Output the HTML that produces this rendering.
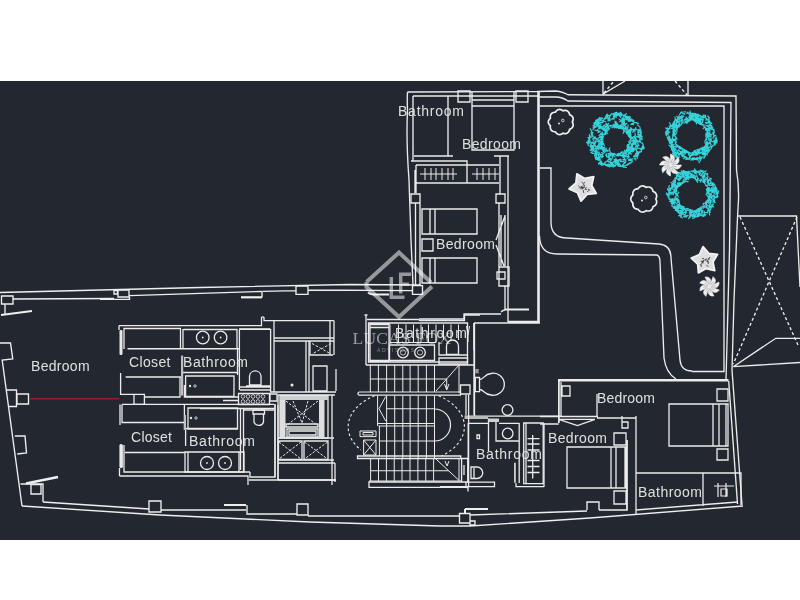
<!DOCTYPE html>
<html><head><meta charset="utf-8">
<style>
html,body{margin:0;padding:0;background:#fff;width:800px;height:600px;overflow:hidden}
svg{position:absolute;left:0;top:0;display:block;will-change:transform}
text{font-family:"Liberation Sans",sans-serif}
</style></head>
<body>
<svg width="800" height="600" viewBox="0 0 800 600">
<rect x="0" y="0" width="800" height="600" fill="#ffffff"/>
<rect x="0" y="81" width="800" height="459" fill="#23272f"/>
<g fill="none" stroke="#efefef" stroke-width="1.35">
<!-- ===== OUTER WALLS LEFT WING ===== -->
<path d="M0 292.5 L200 287.5 L350 284.5 L421 285"/>
<path d="M1.5 296 h11.5 v8 h-11.5 z M13 299 L114 298.5 M5 304 v10"/>
<path d="M1 315 L32 311" stroke-width="2.2"/>
<path d="M118 290 h11 v7 h-11 z M114 290.5 h3.5 v3.5 h-3.5z M100 299.4 H129.5 V297 M129.5 295.6 L262 291.4 V297.5 M263 291.4 L296 290.6 M296 286 h12 v8.4 h-12 z M308 290 L413 290.6"/>
<path d="M241 297.3 H262" stroke-width="2.2"/>
<path d="M368 292.5 Q370 295 375 294.5 L389 294.5" stroke-width="2"/>
<path d="M412.5 285.6 h10 v8.8 h-10 z"/>
<!-- left side -->
<path d="M0 343 H10.5 L12.75 359 L2.2 360 L22 506"/>
<path d="M6.5 390 H16.5 V406.5 H8.5 M17 394 h11.5 v10 h-11.5 z"/>
<path d="M14.8 436 H25 L26.5 453 L17.2 454"/>
<path d="M26 483.5 L58 477" stroke-width="2.4"/>
<path d="M20.5 484 H43 V502 M31 484.5 h10 v9.5 h-10 z"/>
<path d="M43 502 L149 509 M149 501 h12 v11 h-12 z M161 510 H246 M247 505 V514 H297 M297 504 h11 v11 h-11 z M308 516 H460"/>
<path d="M224 505 H246" stroke-width="2"/>
<path d="M22 506 L160 515 L310 522 L440 526 L470 526 L590 518 L743 506"/>
<path d="M459.5 513.5 h10.5 v9.5 h-10.5 z M470 521 h5 v4 h-5z M470 515 L587 511 M587 510 V502 h12 v8 M599 510 H627 V440"/>
<path d="M465 509 H488 M465 509 v5" stroke-width="2"/>
</g>

<g fill="none" stroke="#ececec" stroke-width="1.3">
<!-- upper closet / bath -->
<path d="M119 325.6 H261.5 V317.5 Q262.7 316.3 264 317.5 V320.6 H334 M119 325.6 V330"/>
<path d="M124 349 V328.5 H180.5 V348.5 M127.5 348.75 H239.4 M183 329 V348.75 M183.5 329.5 H237 V348 M239.4 329.4 H270.6 V392 M239.4 329.4 V390 M237.5 348 V375"/>
<circle cx="202.75" cy="337.5" r="6.3"/><circle cx="220.6" cy="337.5" r="6.3"/>
<path d="M183 372.5 H237.5 M125.6 377 H181 M185.6 376 H234 V396.5 H185.6 Z"/>
<path d="M120.6 373 V394.4 H134 M134 394.4 h10.4 v10 h-10.4 z M144.4 397 H180 V385 M180 377 V397 M184.4 385 V397 H238.5"/>
<path d="M122 404.4 H274 M120 404.4 V425 M122 404.4 V422.5 H184.4 M184.4 404 V430 M188 408 H237.5 V429 H188 Z M184 428.5 H237.5 M200 408.5 H275"/>
<path d="M240.5 408.5 V470 M243.5 408.5 V472 M243.5 410 H274"/>
<!-- lower closet -->
<path d="M124 445 V472 H250 M125 452.5 H185 M119.5 476 H248 V485 M119.5 468 V476"/>
<path d="M185 452 H244 V472 H185 Z M188 452 V472 M239 452 V472"/>
<circle cx="207" cy="463" r="6.5"/><circle cx="225" cy="463" r="6.5"/>
<path d="M250 472 V477 H275 V404.5 M185.6 429 V446 M278 405 V480 M249 480 H336"/>
<!-- toilets -->
<path d="M249.5 385 V376 A5.8 5.8 0 0 1 261 376 V385 Z M246 386 H270.6 M240 387 H270 M240 390 H270"/>
<path d="M253 410 H264.5 V414 H253 Z M254 414 V422 A5 5 0 0 0 263.5 422 V414"/>
<!-- vanity -->
<path d="M238.5 393.5 H269.5 V404.5 H238.5 Z M223 400.5 H238.5 V404"/>
<path d="M270 394 h7 v7 h-7 z"/>
</g>
<!-- filled bars -->
<g fill="#e8e8e8" stroke="none">
<rect x="119.5" y="330" width="3" height="25" rx="1.2"/>
<rect x="181" y="355.6" width="2.2" height="40" fill="#bfc1c4"/>
<rect x="119.4" y="444" width="3.5" height="24" rx="1.5"/>
<rect x="184" y="415" width="2" height="15" fill="#bfc1c4"/>
<circle cx="202.75" cy="337.5" r="0.9"/><circle cx="220.6" cy="337.5" r="0.9"/>
<circle cx="207" cy="463" r="0.9"/><circle cx="225" cy="463" r="0.9"/>
<circle cx="190" cy="386" r="1.2"/><circle cx="195" cy="386" r="1.2" fill="none" stroke="#e8e8e8" stroke-width="0.8"/>
<circle cx="191" cy="418" r="1.2"/><circle cx="196" cy="418" r="1.2" fill="none" stroke="#e8e8e8" stroke-width="0.8"/>
</g>
<g fill="none" stroke="#d8d8d8" stroke-width="0.9">
<circle cx="243" cy="396.5" r="1.8"/><circle cx="248" cy="396.5" r="1.8"/><circle cx="253" cy="396.5" r="1.8"/><circle cx="258" cy="396.5" r="1.8"/><circle cx="263" cy="396.5" r="1.8"/>
<circle cx="243" cy="401.5" r="1.8"/><circle cx="248" cy="401.5" r="1.8"/><circle cx="253" cy="401.5" r="1.8"/><circle cx="258" cy="401.5" r="1.8"/><circle cx="263" cy="401.5" r="1.8"/>
</g>
<!-- red line -->
<path d="M29 398.8 H119" stroke="#8e2323" stroke-width="1.4"/>

<g fill="none" stroke="#ececec" stroke-width="1.35">
<!-- tower -->
<path d="M407.5 92 Q407 100 407.5 110 Q406 140 409 180 L411 240 L413 285"/>
<path d="M407.5 92 L537 91.5 L555 91 Q561 91 568 94.75 L736 96 L736.5 170 Q739 185 738.5 200 L737.5 217.5 L734 300 L732 370 L742 505"/>
<path d="M413 96 H539.5 M413 96 V161 M448 96 V156 M414 156 H453"/>
<path d="M458 91 h12 v11 h-12 z M516 91 h12 v11 h-12 z"/>
<path d="M472 92 V150 H514 V92 M472 100 H514 M472 106 H514"/>
<path d="M411 161 H467 V183 M416 165 H499 M416 165 V193 M416 183 H499 M415 170 V193"/>
<path d="M420 174 H457 M472 174 H499 M425 168 V180 M431 168 V180 M436 168 V180 M442 168 V180 M448 168 V180 M453 168 V180 M477 168 V180 M483 168 V180 M489 168 V180 M495 168 V180" stroke-width="1"/>
<path d="M494 156 H509 M500 156 V194 M508 156 V322 M499 203 V267"/>
<path d="M411 194 h9 v9 h-9 z M496 194 h9 v9 h-9 z M420 203 V285 M415.5 203 V285"/>
<path d="M501 215 V266 M505 215 V266 M505 216 L496 240 M496 245 L504 266"/>
<path d="M422 209 H477 V234 H422 Z M430 209 V234 M435 209 V234 M422 239 h11 v12 h-11 z"/>
<path d="M422 258 H477 V283 H422 Z M430 258 V283 M435 258 V283"/>
<path d="M499 267 h10 v19 h-10 z M497 272 h8 v7 h-8 z M505 286 V310"/>
<path d="M505 309.5 H529" stroke-width="2"/>
<path d="M501 314 H464 V319 H419 M508 321.5 H539 M474 323 H540 M474 323 V350 M501 312 Q503 310 505 310"/>
<!-- garden walls -->
<path d="M538.5 91.5 V323" stroke-width="2.6"/>
<path d="M539.5 97 L556 97 Q562 97 568 101 L731 102.5 L729.5 250 L726 380 M539.5 106 H724 V371.5 H692"/>
<path d="M728.7 381 L737.5 504"/>
<!-- garden path -->
<path d="M540 168 H551 V222 Q551 238 567 238 L659 244 Q671 245 671 258 L680 360 Q681 371 692 371"/>
<path d="M539.5 236 Q540 254 557 254 L657 255 Q660 256 660 262 L664 358 Q666 373 676 379"/>
<!-- right triangle structure -->
<path d="M737.5 216 H796.5 L800 287 M733.3 366.7 L775.8 338.3 H800 M733.3 366.7 L800 362.5"/>
<path d="M740 217 L798 345 M797 217 L733.3 364" stroke-dasharray="3 2.5"/>
<!-- top triangles -->
<path d="M603 81 V94 L625 81 M688 81 V95.5"/>
<path d="M604 93 L614 81 M675 81 L687 95" stroke-dasharray="3 2.5"/>
</g>

<g fill="none" stroke="#ececec" stroke-width="1.3">
<!-- shaft block between left wing and stairs -->
<path d="M274 320.6 V392 M274 338 H334 M274 341 H334 M330 320.6 V355 M334 320.6 V355 M306 341 V392 M309 341 V392 M275 341 H306"/>
<path d="M310 341 V355 H333"/><path d="M312 343.5 L331 354 M331 343.5 L312 354" stroke-width="1" stroke-dasharray="2.5 1.8"/>
<path d="M313 366 h14 v25 h-14 z M336 369 V391 M270 392 H336 M270 329 H239"/>
<circle cx="292" cy="385" r="0.9" fill="#ddd"/>
<!-- lift -->
<path d="M278 395 H335 M278 438 H334 M278 395 V480 M275 404 V477 M332 395 V485 M335 463 V482"/>
<path d="M280 395.6 H328 V438 H280 Z"/>
<path d="M286 401 L318 426 M318 401 L286 426 M293 401 L302 423 L308 401" stroke-width="1" stroke-dasharray="2.5 1.5"/>
<path d="M286 424 h32 v3 h-32 z M287 429 h31 v8 h-31 z M289 431 h27 v4 h-27 z"/>
<path d="M278.5 441 h23.5 v18.5 h-23.5 z M304 441 h24 v18.5 h-24 z" />
<path d="M279 442 L301 459 M301 442 L279 459 M304.5 442 L327.5 459 M327.5 442 L304.5 459" stroke-width="1" stroke-dasharray="2.5 1.5"/>
<path d="M278 460 H334 M278 463 H335 M278 480 H336"/>
<!-- center stair core -->
<path d="M366 315 V365 M364.5 315 h3 M367 319.5 H418 L420 320.5 H464.5 V315 H480"/>
<path d="M368.5 323 H467.5 V362 H368.5 Z M370 324.5 H389 V360.5 H370 Z M370 327.5 H389"/>
<path d="M390 324.5 V342.5 M398.5 324.5 V342.5 M406 324.5 V342.5 M413.5 324.5 V342.5 M421 324.5 V342.5 M428.5 324.5 V342.5 M436 324.5 V342.5 M443.5 324.5 V340 M451 324.5 V340 M458.5 324.5 V340 M390 342.5 H436" stroke-width="1"/>
<path d="M389.5 345 H434.5 V360.5 H389.5 Z"/>
<circle cx="403" cy="352.5" r="5.3"/><circle cx="420" cy="352.5" r="5.3"/>
<circle cx="403" cy="352.5" r="2.6" stroke-width="0.8"/><circle cx="420" cy="352.5" r="2.6" stroke-width="0.8"/>
<path d="M446.5 354.5 V346 A6 6 0 0 1 458.5 346 V354.5 Z M439 342 V355 H467 M439 358 h28.5 v6 h-28.5 z"/>
<path d="M466.5 326 L468 335 L469.5 326 M468 335 V342" stroke-width="1"/>
<path d="M366 365 H474 M474 323 V415"/>
<!-- upper flight -->
<path d="M370.3 365 V392 M378.4 365 V392 M386.6 365 V392 M394.7 365 V392 M402.8 365 V392 M410.1 365 V392 M418.2 365 V392 M426.4 365 V392 M434.5 365 V392 M370.3 379 H446.7 M436 391 L459 365 M459 365 V393 M446.7 379 V390 M444.5 384 L446.7 390 L449 384" stroke-width="1"/>
<path d="M359.5 392 H460.5 V395.2 H359.5 A1.6 1.6 0 0 1 359.5 392 Z" stroke-width="1.2"/>
<path d="M460.5 385 h9.5 v9 h-9.5 z M466 395 V415 M468.6 395 V415"/>
<!-- lower flight -->
<path d="M377.6 395.5 V426 M386.6 395.5 V458 M394.7 395.5 V458 M402.8 395.5 V458 M410.1 395.5 V458 M418.2 395.5 V458 M426.4 395.5 V458 M434.5 395.5 V458 M379.4 426 V456 M386.6 408.75 H434.5 M377.6 423.5 H434.5 M378.5 426 H434.5 M379.4 441 H434.5 M385.7 396.6 L379 408.75 L385.7 421" stroke-width="1"/>
<path d="M434.5 409 A16 16 0 0 1 434.5 441" stroke-width="1.2"/>
<path d="M374.7 395.7 A58 37 0 0 0 361 450 M438.6 395.75 A58 37 0 0 1 441.5 456" stroke-dasharray="2.6 2.4" stroke-width="1.1"/>
<path d="M360 431 h16 v5.6 h-16 z M363 432.5 h10 v2.5 h-10 z M363.6 440 h12.4 v15 h-12.4 z M363.6 440 L376 455 M376 440 L363.6 455" stroke-width="1"/>
<path d="M357.5 456 H460.75 V458.5 H357.5 Z"/>
<path d="M370.6 458.5 V481 M378.5 458.5 V481 M386.4 458.5 V481 M394.25 458.5 V481 M402 458.5 V481 M410 458.5 V481 M417.9 458.5 V481 M425.75 458.5 V481 M433.6 458.5 V481 M370.6 470.75 H448.5 M369 481 H461 M435.4 458.5 L459 480.4 M459 458.5 V481 M445 461 L447 466 L449 461" stroke-width="1"/>
<path d="M461.6 458.5 h6.2 v23.5 h-6.2 z M464 465 v10 M369 482 H466 V487.4 H369 Z M468.6 415 V486 M466 487.5 h2 v4"/>
</g>
<g fill="#dedede" stroke="none">
<rect x="280" y="397" width="5.5" height="40"/>
<rect x="319" y="397" width="5.5" height="40"/>
<rect x="280" y="396" width="48" height="4" fill="#cfcfcf"/>
</g>

<g fill="none" stroke="#ececec" stroke-width="1.3">
<!-- center-right bathroom with big toilet -->
<path d="M474.5 323 V416 M464.5 416.2 H560 M464.5 418 H488"/>
<path d="M475.3 377.5 h4.2 v14.2 h-4.2 z M479.5 379.5 C484 379.5 484 374 491 373.5 A11 11 0 1 1 491 395 C484 394.5 484 389.5 479.5 389.5" stroke-width="1.3"/>
<circle cx="507.5" cy="410" r="5.4"/>
<!-- lower bathroom -->
<path d="M468.2 423 V483 M468.2 423.3 H488 M499 423.3 H519.2 M488.5 418.5 V451.5 M496 421.5 V441 H518.5 M519.2 423 V483"/>
<circle cx="507.7" cy="433.5" r="5.3"/>
<path d="M477 435 h2.5 v3.7 h-2.5 z"/>
<path d="M471 467 H477 A5.75 5.75 0 0 1 477 478.5 H471 Z M474 468 V478"/>
<path d="M469 482.2 H494.5 V486.7 H440 M516 483 V486.7 H544"/>
<path d="M523.7 423 H543.2 V483.7 H523.7 Z M526 423 V483.7 M532.7 435 V478.5 M527.5 438.7 H539.5 M527.5 444 H539.5 M527.5 450 H539.5 M527.5 460.5 H539.5 M527.5 466.5 H539.5 M527.5 472.5 H539.5"/>
<path d="M544 423 V487 M558.7 379 V423"/>
<!-- right wing -->
<path d="M558 380.3 H728.5" stroke-width="2.4"/>
<path d="M559 380 V423 M561 382 V416 M562 386 h8 v10 h-8 z M597 394 V417 M540 416.5 H598 M597 418 H636"/>
<path d="M558.7 419.3 H595 M558.7 419.3 L577.4 425.6 L595 419.3 M540 424 H558.7"/>
<path d="M614 433 h12 v12 h-12 z M622 416 V428 M622 422 h6 v6 h-6 z M636 416 V515"/>
<path d="M567 447 H626 V488 H567 Z M611 447 V488 M616 447 V488 M625 447 V488 M614 491 h12 v13 h-12 z M627 440 V510"/>
<path d="M669 404 H728 V446 H669 Z M713 404 V446 M719 404 V446 M726 404 V446 M717 389 h11 v12 h-11 z M717 449 h11 v11 h-11 z"/>
<path d="M636 473 H741 V505 M703 473 V506 M636 510 L737.5 502"/>
<path d="M714 486 H734 M718 483 V497 M726 483 V497 M721 489 h6 v7 h-6z" stroke-width="1.2"/>
</g>
<rect x="475.3" y="369" width="3.4" height="4.3" fill="#9a9a9a"/>
<rect x="488.5" y="418.5" width="10.5" height="3.5" fill="#d0d0d0"/>
<rect x="514" y="462.7" width="1.8" height="20" fill="#d0d0d0"/>

<path d="M640.7 140.9 L640.2 142.4 L640.4 142.0 M641.8 142.6 L643.2 144.4 L641.9 143.1 M643.0 145.3 L643.8 147.0 L644.2 148.4 M642.4 147.6 L641.0 148.4 L642.1 147.8 M641.4 149.0 L641.4 151.8 L640.4 152.1 M640.0 151.3 L639.2 152.7 L637.9 151.8 M638.6 152.9 L638.1 155.4 L638.0 154.8 M637.7 154.9 L637.2 157.4 L637.3 158.5 M635.5 155.7 L633.8 156.0 L633.6 156.7 M635.0 157.0 L635.1 159.6 L635.9 159.8 M632.8 158.7 L630.5 159.8 L630.8 159.7 M632.5 161.4 L630.5 163.1 L629.2 163.7 M631.2 162.9 L629.3 163.0 L628.9 163.6 M629.6 162.8 L628.8 164.3 L627.5 165.1 M627.8 164.0 L625.4 165.8 L624.1 165.6 M626.4 167.5 L623.4 167.1 L622.8 166.8 M624.2 167.3 L622.6 166.6 L621.7 165.8 M621.9 166.2 L619.9 166.4 L618.4 166.1 M619.6 166.2 L617.4 164.7 L617.4 165.1 M617.1 164.7 L614.8 163.2 L615.9 164.0 M615.5 165.5 L613.4 167.0 L612.1 165.7 M613.9 164.7 L612.3 165.0 L610.8 164.0 M612.0 165.1 L609.5 166.8 L609.9 165.7 M609.8 164.9 L608.1 164.9 L609.2 166.3 M607.4 165.1 L605.8 165.6 L605.4 164.9 M605.1 164.2 L602.1 165.2 L602.2 164.1 M603.4 163.8 L600.7 162.2 L601.7 162.8 M601.5 163.5 L598.7 163.4 L598.8 164.3 M600.4 161.3 L599.1 158.4 L600.1 159.3 M598.0 160.0 L595.8 159.2 L595.3 157.8 M598.2 158.2 L595.8 157.2 L597.1 157.0 M595.1 156.8 L595.3 154.7 L594.4 153.8 M596.1 154.7 L594.9 151.9 L595.9 151.9 M593.4 153.4 L591.0 152.4 L592.2 153.3 M592.9 151.3 L590.6 149.6 L590.1 150.5 M591.8 149.3 L590.3 146.5 L590.9 145.5 M591.8 148.2 L592.7 145.5 L591.7 146.5 M588.6 145.8 L587.6 143.5 L586.5 142.1 M588.2 143.6 L588.0 140.5 L587.8 141.6 M590.0 141.5 L589.1 139.7 L588.4 140.0 M589.9 140.2 L588.2 137.6 L587.8 137.5 M589.5 137.7 L589.4 134.6 L589.4 134.7 M592.2 136.1 L592.4 134.3 L590.9 135.2 M591.6 134.4 L593.0 132.4 L592.5 132.5 M591.6 131.9 L590.9 129.5 L590.1 128.8 M592.9 129.9 L594.3 127.5 L595.5 127.3 M593.4 128.2 L594.8 125.8 L594.6 125.9 M593.1 125.7 L595.4 123.8 L596.7 123.1 M593.8 123.4 L595.4 122.8 L594.3 122.6 M595.6 123.0 L595.7 120.3 L596.5 121.5 M596.3 120.5 L597.8 119.7 L599.0 121.1 M598.2 119.2 L599.7 117.5 L601.2 118.5 M601.0 119.5 L602.7 118.3 L601.8 117.8 M604.0 119.4 L606.1 118.5 L604.6 118.0 M605.2 117.7 L606.5 114.8 L607.4 116.2 M606.7 117.7 L607.9 115.2 L607.2 114.1 M608.4 115.3 L610.3 115.8 L609.2 117.0 M610.6 115.0 L611.6 113.8 L612.2 113.6 M611.9 113.9 L614.7 114.1 L613.5 115.1 M613.9 113.3 L616.0 113.0 L616.2 114.3 M616.3 114.2 L618.2 114.3 L617.1 113.3 M618.2 113.4 L620.2 112.9 L620.9 112.3 M620.7 114.9 L622.2 114.8 L621.4 113.4 M623.0 115.3 L625.2 114.8 L626.5 113.6 M624.8 116.7 L627.5 117.7 L627.2 117.7 M626.9 116.3 L629.8 116.8 L630.4 117.3 M627.7 118.6 L629.4 118.2 L628.1 119.0 M629.0 119.9 L631.9 119.6 L633.0 120.1 M630.8 120.7 L633.0 121.4 L631.9 121.2 M633.7 120.3 L633.9 122.7 L633.1 124.1 M634.5 122.5 L636.7 122.5 L636.6 122.5 M636.6 123.2 L638.5 123.4 L637.3 123.1 M637.4 125.0 L639.0 126.1 L639.2 126.2 M639.9 127.0 L640.4 130.0 L640.0 129.4 M639.1 130.1 L639.2 132.6 L637.9 133.7 M640.5 131.6 L640.4 134.4 L639.3 134.5 M641.2 133.0 L640.6 135.8 L640.9 137.0 M641.2 135.3 L642.1 136.6 L641.0 136.1 M641.7 136.6 L641.9 139.1 L642.2 139.7 M640.0 139.2 L638.9 141.7 L638.9 141.8 M630.9 141.2 L630.1 143.0 L628.8 142.3 M630.1 143.1 L628.4 145.7 L628.4 145.4 M628.6 144.2 L626.9 146.1 L627.3 144.9 M629.2 145.9 L627.8 147.3 L628.0 145.9 M628.7 147.6 L626.8 149.5 L627.4 148.8 M627.6 149.7 L626.7 151.1 L627.8 150.2 M624.9 150.2 L624.8 152.5 L625.7 153.9 M624.9 152.0 L623.5 154.8 L622.6 155.0 M623.2 152.1 L621.5 151.8 L622.4 151.8 M620.8 152.7 L618.7 154.8 L618.6 153.4 M620.2 153.5 L618.4 154.3 L617.3 153.8 M618.2 153.5 L616.6 155.7 L617.6 154.6 M615.9 154.8 L614.3 153.6 L613.9 153.3 M614.1 154.5 L611.8 154.6 L611.2 153.3 M613.4 153.5 L610.4 153.9 L609.6 153.2 M611.0 154.0 L607.9 153.6 L609.1 154.5 M610.1 151.6 L609.2 149.3 L609.9 148.0 M608.0 151.7 L606.6 149.5 L606.0 148.2 M605.6 151.4 L604.1 150.0 L603.5 150.7 M604.1 150.1 L603.2 148.3 L603.4 148.0 M603.3 149.5 L600.6 148.1 L600.6 147.2 M604.5 145.8 L603.6 144.3 L602.7 143.1 M602.2 145.6 L600.8 144.2 L601.0 145.3 M602.5 143.2 L601.7 140.9 L601.3 140.4 M601.9 142.2 L603.0 140.8 L603.0 141.2 M601.3 139.5 L600.7 137.7 L600.4 137.5 M602.5 137.8 L603.6 136.7 L602.2 137.4 M602.1 135.9 L602.8 134.6 L602.5 135.9 M604.1 134.9 L605.9 134.2 L604.7 133.2 M604.6 133.7 L607.2 132.8 L607.7 133.6 M605.4 132.2 L605.2 129.4 L604.4 130.7 M606.2 130.3 L606.6 128.5 L607.0 129.1 M606.6 129.0 L608.6 127.5 L608.3 126.6 M608.2 127.0 L609.8 125.3 L611.1 125.7 M610.6 126.8 L612.0 125.4 L613.4 126.0 M611.6 125.7 L614.1 125.0 L613.9 124.2 M614.3 127.9 L615.6 127.1 L615.1 126.9 M615.8 126.2 L618.3 127.4 L618.3 126.5 M617.9 126.5 L619.4 127.7 L618.6 128.4 M618.6 128.1 L620.4 128.5 L619.6 128.2 M620.7 128.2 L622.8 127.7 L622.0 129.2 M622.9 126.2 L625.0 125.6 L626.2 126.8 M623.5 130.0 L624.0 132.0 L623.1 133.3 M626.2 129.5 L627.3 131.4 L626.9 130.9 M627.0 130.5 L628.8 131.4 L630.2 130.3 M628.2 132.9 L630.2 135.0 L631.2 134.8 M628.1 133.9 L630.1 136.2 L629.1 135.8 M630.8 135.8 L632.0 138.4 L632.8 137.0 M631.2 136.6 L630.4 138.4 L631.2 139.6 M630.9 139.0 L629.4 141.1 L628.7 141.7 M609.2 155.9 L611.8 155.9 L613.9 154.7 L615.4 154.4 M618.0 160.0 L620.8 159.2 L619.4 160.4 L617.4 161.4 M630.0 133.7 L630.8 131.3 L632.0 128.9 L630.4 127.6 M608.3 157.0 L608.6 155.4 L609.5 157.9 L609.5 159.5 M636.6 145.0 L635.2 147.6 L637.5 145.6 L637.3 147.2 M632.4 151.8 L631.8 149.7 L632.0 151.8 L630.2 150.1 M615.7 114.9 L614.8 113.5 L615.9 112.5 L614.1 113.2 M614.8 124.9 L614.9 126.8 L616.5 127.9 L614.8 127.0 M595.3 156.3 L594.6 155.5 L595.5 153.2 L597.1 153.1 M590.4 144.6 L591.9 142.2 L593.8 142.7 L595.1 143.9 M636.7 136.9 L638.6 136.1 L640.0 134.5 L639.8 137.1 M629.8 135.6 L627.8 134.2 L628.5 136.1 L629.6 137.5 M615.3 161.8 L614.3 160.3 L616.3 160.4 L615.5 158.8 M610.0 155.0 L610.7 152.8 L612.2 153.4 L610.4 154.8 M606.9 129.6 L607.5 131.0 L605.9 132.0 L604.5 134.6 M608.0 160.0 L606.6 161.6 L608.6 159.4 L607.4 160.7 M613.8 125.0 L616.7 125.1 L614.3 126.4 L611.9 127.8 M601.4 144.2 L603.7 144.4 L601.9 142.2 L603.7 143.5 M602.2 155.0 L603.4 156.5 L600.5 156.2 L602.3 157.6 M624.8 115.9 L625.4 117.5 L627.8 117.1 L626.2 117.3 M632.6 132.2 L634.6 130.8 L635.3 129.3 L635.8 127.5 M596.0 154.2 L596.9 152.6 L597.3 154.7 L595.2 154.4 M627.9 152.1 L627.5 149.3 L629.7 149.9 L629.8 148.4 M623.9 127.7 L622.0 126.4 L620.6 125.0 L618.6 126.1 M596.5 150.3 L594.5 151.0 L596.9 151.4 L595.0 151.5 M618.2 115.3 L616.4 115.8 L614.8 116.0 L616.3 117.6 M632.1 150.9 L630.5 150.8 L629.4 149.6 L629.2 147.0 M602.2 139.5 L600.1 139.5 L601.8 138.9 L603.0 136.4 M613.3 116.3 L614.3 119.0 L611.4 119.2 L612.9 118.3 M622.3 115.0 L624.1 115.9 L623.9 114.9 L624.9 115.4 M622.2 126.4 L619.3 126.3 L619.8 128.0 L617.9 127.9 M631.0 144.0 L632.6 146.5 L631.4 143.9 L632.7 146.3 M631.3 154.0 L629.9 152.4 L631.6 150.8 L629.1 149.4 M636.7 156.5 L635.3 155.0 L635.8 153.1 L638.2 153.0 M600.8 158.8 L599.1 159.5 L599.1 157.9 L599.9 156.2 M598.5 119.5 L597.6 119.7 L597.0 121.0 L598.7 121.4 M601.4 127.5 L598.6 127.2 L599.8 128.6 L598.9 127.3 M633.8 140.8 L635.4 142.1 L635.7 144.4 L634.2 143.4 M601.6 126.3 L603.5 128.5 L603.6 130.2 L605.6 131.6 M632.4 123.3 L630.9 124.4 L633.4 124.5 L631.5 123.8 M604.3 125.2 L606.7 124.2 L606.7 127.1 L608.9 127.7 M602.2 149.8 L604.7 150.7 L607.0 150.9 L608.3 150.7 M622.9 161.6 L620.5 161.5 L621.1 159.8 L620.4 161.6 M641.9 148.6 L642.4 146.1 L643.2 145.8 L642.9 143.6 M615.0 121.1 L615.2 122.8 L615.4 124.3 L614.1 126.6 M607.8 117.7 L607.4 115.9 L605.9 116.4 L607.0 115.9 M613.9 162.0 L615.7 161.6 L616.8 160.6 L616.7 162.5 M615.0 113.7 L615.0 112.8 L616.4 112.3 L616.6 115.1 M600.1 123.4 L598.6 120.8 L595.9 121.4 L596.3 120.1 M594.9 149.3 L593.1 148.5 L593.7 150.8 L596.2 152.2 M624.2 151.0 L626.5 152.8 L625.5 154.2 L627.1 154.5 M608.4 120.3 L607.5 117.9 L609.7 118.8 L607.9 120.9 M626.5 118.0 L629.1 119.1 L630.7 118.8 L632.2 120.0 M627.0 149.8 L628.5 147.6 L627.6 146.0 L627.8 145.1 M628.0 149.2 L628.1 147.4 L627.2 149.3 L629.0 149.6 M611.4 162.6 L610.1 164.1 L612.3 163.6 L613.7 161.6 M634.5 144.2 L632.1 145.2 L630.6 147.3 L628.8 146.9 M625.2 129.7 L625.9 128.1 L627.7 128.1 L628.0 125.2 M635.6 141.0 L632.9 141.2 L633.8 143.2 L632.2 145.5 M614.3 165.9 L614.0 166.6 L613.3 164.4 L615.2 166.0 M636.9 152.2 L636.1 149.6 L634.7 148.2 L632.9 149.4 M626.8 131.6 L627.9 130.6 L628.5 132.5 L630.3 131.2 M597.9 157.7 L598.1 159.8 L596.6 158.4 L596.6 155.9 M605.7 154.9 L607.3 157.2 L605.9 155.0 L607.0 156.9 M619.2 119.1 L620.7 120.7 L622.1 119.4 L622.8 121.3 M609.0 117.3 L610.0 118.8 L610.0 120.8 L608.3 120.5 M608.6 154.3 L611.2 153.9 L613.6 155.6 L615.2 156.9 M639.4 138.1 L639.2 136.0 L640.0 138.3 L641.4 139.4 M605.2 149.6 L603.1 151.2 L602.3 149.1 L600.8 147.5 M629.3 156.9 L627.1 158.4 L628.9 157.2 L626.6 156.0 M601.8 148.2 L601.3 145.4 L601.7 142.9 L603.2 140.9 M603.7 125.4 L602.8 127.6 L604.5 128.9 L605.1 126.4 M604.6 128.5 L602.7 129.5 L601.2 128.0 L599.9 125.4 M625.4 161.4 L625.7 159.4 L622.8 159.6 L625.0 160.1 M628.7 160.8 L630.8 159.9 L632.5 161.1 L630.0 160.4 M594.2 138.8 L595.3 136.8 L592.8 138.4 L593.5 140.8 M597.8 155.0 L600.0 157.1 L599.0 158.4 L598.7 160.4 M634.6 142.1 L632.4 143.3 L631.2 144.8 L631.7 147.4 M634.9 133.0 L635.4 135.7 L634.0 136.8 L635.8 138.7 M623.9 120.3 L621.6 120.8 L622.1 123.7 L620.6 125.7 M626.0 118.8 L624.1 119.1 L622.5 118.6 L623.5 116.9 M625.9 127.0 L624.5 128.4 L623.1 128.9 L625.7 129.0 M612.8 156.5 L612.1 158.6 L609.9 159.7 L608.8 158.0 M638.7 129.6 L640.9 130.7 L640.9 130.1 L641.2 132.7 M607.3 130.9 L609.1 129.2 L608.0 127.6 L609.4 128.6 M618.4 164.0 L617.4 165.4 L619.6 163.9 L621.0 166.3 M596.8 124.9 L595.4 122.4 L596.4 120.1 L597.2 122.5 M593.4 136.1 L590.8 137.1 L589.9 136.6 L590.0 138.3 M602.4 141.1 L600.7 141.4 L598.4 141.6 L595.7 140.9 M640.4 141.5 L638.1 142.0 L636.7 139.6 L635.2 141.1 M630.2 136.9 L628.6 135.1 L631.0 135.5 L629.8 132.8 M602.2 165.4 L600.6 164.3 L601.8 163.4 L601.4 161.0 M602.1 162.9 L600.7 164.4 L599.3 162.4 L600.3 163.8 M597.9 150.1 L598.8 148.4 L599.8 146.5 L597.9 146.5 M589.3 139.4 L589.6 137.4 L589.1 139.2 L588.4 141.4 M599.7 122.1 L602.2 122.7 L604.0 121.2 L605.8 121.8 M631.5 141.1 L633.6 140.0 L632.2 137.7 L634.2 136.4 M599.1 125.3 L598.3 123.0 L597.5 121.4 L596.9 119.9 M617.1 126.3 L617.8 127.7 L618.2 124.8 L617.1 123.1 M626.4 119.3 L624.6 118.6 L623.9 120.7 L623.1 122.6 M599.4 119.9 L601.6 120.7 L603.2 121.1 L604.1 118.9 M633.0 130.9 L635.1 131.1 L632.7 129.5 L634.9 129.3 M603.4 148.2 L602.3 146.8 L603.2 148.0 L604.8 148.8 M634.6 158.3 L635.2 158.2 L635.2 158.3 L634.8 156.4 M614.4 125.2 L616.9 126.0 L616.3 123.3 L616.1 121.7 M599.6 123.4 L596.8 124.1 L596.7 127.0 L596.4 125.5 M637.9 142.5 L638.5 141.1 L637.6 143.5 L639.0 145.9 M602.4 141.7 L600.8 143.4 L598.5 144.4 L600.2 146.5 M601.6 157.2 L600.1 155.6 L598.1 157.4 L600.6 156.5 M600.5 133.6 L603.2 134.7 L602.4 132.1 L601.3 134.2 M639.8 137.1 L638.2 135.9 L635.7 137.2 L633.8 138.9 M595.0 124.9 L595.7 123.1 L597.6 123.1 L595.5 124.2 M626.0 117.7 L628.7 118.5 L628.7 117.7 L627.0 116.8 M630.1 121.4 L629.0 118.8 L628.0 120.1 L625.5 119.2 M623.5 163.7 L625.1 162.9 L623.2 161.3 L621.4 161.7 M615.3 163.6 L615.9 161.5 L618.2 162.9 L618.4 161.1 M593.9 128.4 L595.6 126.9 L593.2 127.2 L593.9 128.9 M625.9 161.8 L624.4 163.6 L622.5 164.9 L623.5 166.2 M634.0 140.2 L636.0 141.7 L636.4 140.0 L634.7 138.8 M602.5 138.8 L602.9 139.2 L602.5 137.1 L600.7 136.3 M619.5 121.7 L622.0 120.8 L623.2 118.1 L623.2 119.7 M620.7 155.3 L622.1 156.1 L619.4 155.1 L616.6 155.8 M627.5 133.2 L625.8 132.0 L628.0 134.0 L628.5 136.1 M599.0 119.8 L598.9 119.1 L597.3 119.7 L600.3 119.1 M618.4 153.8 L618.3 155.9 L620.7 154.2 L621.5 152.9 M621.2 118.0 L619.4 115.6 L621.1 116.2 L621.1 113.3 M608.2 124.8 L606.0 123.4 L607.6 124.6 L607.5 126.3 M600.8 142.3 L600.9 144.0 L600.2 142.6 L599.9 140.9 M642.3 146.5 L642.8 149.4 L643.4 147.0 L643.6 148.3 M636.9 155.1 L638.2 153.0 L636.3 153.6 L637.3 151.6 M605.7 129.7 L606.0 131.3 L605.4 129.0 L607.1 131.3 M614.1 159.1 L615.1 160.7 L616.2 159.0 L617.3 161.0 M605.1 164.5 L607.4 166.1 L610.3 166.3 L609.4 164.7 M598.9 142.9 L598.8 144.7 L596.8 147.0 L599.7 147.0 M630.1 150.4 L631.3 149.4 L631.1 147.5 L632.6 147.3 M622.3 123.8 L623.2 125.0 L624.3 123.0 L625.2 125.0 M629.7 132.0 L628.2 131.3 L629.3 133.7 L628.9 132.0 M628.5 147.3 L627.5 146.3 L627.3 148.1 L627.2 147.6 M623.9 121.1 L624.4 122.6 L624.2 120.5 L623.9 118.9 M622.6 124.0 L624.1 121.6 L622.6 121.7 L624.5 120.5 M627.5 128.6 L628.5 131.1 L627.4 132.4 L626.6 133.6 M636.0 141.1 L633.9 141.8 L635.7 143.6 L636.9 141.1 M605.8 161.8 L603.9 163.6 L606.5 164.6 L608.7 164.0 M595.7 138.8 L594.2 138.4 L596.0 138.1 L596.7 139.6 M615.9 164.4 L617.5 164.7 L617.0 163.0 L619.4 163.3 M598.2 131.2 L597.7 129.6 L599.5 127.8 L601.1 128.2 M595.8 141.3 L595.4 143.0 L594.0 143.9 L591.7 142.4 M628.5 157.1 L628.4 155.3 L629.8 152.7 L628.1 154.1 M626.8 123.5 L624.5 125.3 L624.8 123.3 L624.9 125.3 M591.8 150.9 L592.7 148.2 L593.8 145.6 L596.0 146.4 M640.6 133.8 L640.6 136.0 L639.2 134.5 L637.6 134.1 M597.9 148.6 L599.6 148.8 L602.2 148.3 L604.5 147.4 M625.1 117.3 L626.2 116.3 L624.8 115.4 L623.7 114.8 M591.7 133.9 L591.0 132.8 L590.9 133.1 L592.8 132.5 M608.5 161.2 L610.2 162.9 L612.4 162.2 L612.1 164.4 M600.7 137.2 L602.0 138.4 L601.4 140.4 L600.9 142.2 M633.5 151.3 L634.8 149.2 L632.5 148.2 L633.3 150.6 M595.7 145.6 L594.0 144.2 L593.3 145.9 L593.7 148.1 M600.4 154.6 L602.4 154.7 L603.6 153.3 L601.5 152.5 M610.3 166.1 L610.1 166.3 L611.2 166.3 L612.7 164.8 M633.2 147.6 L630.8 148.5 L632.2 149.7 L634.8 149.0 M625.9 155.0 L624.4 157.0 L622.3 155.1 L623.3 153.1 M614.3 117.0 L614.5 114.8 L615.0 112.8 L616.5 112.2 M624.8 131.2 L625.1 128.8 L622.5 128.2 L620.6 127.2 M621.4 115.5 L619.8 114.2 L617.7 114.8 L617.3 112.9 M600.0 153.6 L598.5 154.9 L599.2 152.2 L597.0 152.2 M623.0 156.5 L624.5 158.3 L623.0 157.5 L624.8 156.6 M629.3 120.4 L631.1 120.0 L628.5 121.2 L630.1 121.3 M597.9 132.7 L600.3 131.4 L597.3 130.7 L595.1 130.4 M608.6 123.4 L607.1 125.2 L605.4 127.6 L604.4 125.5 M630.9 151.2 L629.0 152.5 L626.5 151.3 L628.6 150.8 M596.0 148.4 L598.0 148.4 L595.3 147.8 L596.2 149.6 M639.7 137.3 L638.1 137.1 L640.1 135.6 L641.3 132.9 M630.5 128.2 L631.6 129.8 L629.3 129.7 L630.0 131.3 M600.9 124.4 L599.1 126.8 L598.1 125.6 L595.8 127.1 M608.1 161.8 L610.0 161.8 L611.3 159.8 L610.4 158.3 M595.1 140.8 L594.8 143.2 L591.9 142.7 L590.0 141.7 M627.3 151.3 L627.4 149.6 L628.8 150.6 L626.1 150.3 M596.7 123.9 L598.1 124.5 L598.4 122.5 L597.9 120.6 M624.1 155.0 L626.4 156.7 L624.6 155.7 L622.6 156.3 M641.1 149.5 L638.6 148.0 L636.3 148.9 L636.3 150.5 M638.8 129.9 L637.7 132.5 L638.5 130.7 L636.1 129.0 M589.2 141.3 L589.2 143.3 L588.9 141.5 L587.9 144.2 M591.0 143.0 L591.1 144.7 L590.0 146.1 L591.9 145.8 M602.3 134.9 L600.3 134.5 L599.0 135.4 L601.0 137.3 M606.2 153.7 L606.9 155.5 L607.1 157.1 L606.0 155.3 M628.7 159.4 L630.2 160.4 L631.1 158.9 L628.5 159.9 M621.2 126.0 L619.7 128.0 L617.9 127.9 L619.4 128.0 M599.8 140.0 L598.2 140.5 L597.7 138.7 L599.6 137.3 M604.9 152.6 L603.5 151.5 L604.6 150.3 L602.3 150.1" fill="none" stroke="#35d2da" stroke-width="1.2" stroke-linecap="round" stroke-linejoin="round"/>
<path d="M716.0 136.8 L716.4 139.4 L716.6 138.8 M715.1 138.8 L716.3 141.5 L715.8 142.0 M716.7 140.6 L716.9 143.0 L716.3 141.7 M714.3 142.3 L715.3 144.9 L714.6 144.6 M713.9 144.9 L711.5 146.5 L710.4 145.9 M713.1 145.5 L711.8 147.1 L711.6 147.6 M710.5 147.0 L708.7 148.0 L709.1 147.1 M711.2 148.7 L709.0 150.4 L707.7 149.0 M708.6 149.1 L707.9 151.2 L706.5 150.6 M707.2 150.8 L704.9 151.5 L705.5 150.7 M707.2 152.8 L706.4 154.1 L707.4 154.9 M705.1 152.9 L702.6 153.2 L701.3 152.5 M705.3 155.7 L703.9 158.4 L704.6 157.1 M703.1 156.9 L700.2 157.3 L699.6 156.0 M701.7 158.9 L699.1 158.2 L699.8 159.2 M700.5 160.2 L699.2 162.5 L699.0 162.6 M697.7 158.9 L696.2 158.7 L696.8 159.6 M696.8 159.7 L694.5 158.4 L694.7 157.7 M695.0 159.0 L693.2 159.5 L692.7 158.4 M692.5 159.4 L690.8 160.2 L690.9 160.1 M690.5 158.2 L687.7 159.1 L686.6 159.3 M689.4 159.2 L686.6 158.7 L685.6 159.2 M687.5 158.0 L685.1 156.4 L683.9 155.7 M686.2 157.2 L684.4 158.1 L683.5 158.7 M684.5 156.7 L682.2 156.6 L681.7 155.6 M683.2 156.3 L682.2 153.7 L680.9 154.4 M679.7 157.2 L677.4 157.4 L677.2 156.5 M679.0 155.8 L678.2 153.3 L678.6 154.6 M676.4 156.0 L674.7 155.6 L673.3 156.4 M675.2 154.2 L672.6 153.5 L673.7 154.8 M673.9 153.9 L673.2 151.2 L672.7 150.2 M673.8 150.5 L671.9 148.9 L671.5 149.9 M673.9 149.0 L672.7 146.7 L673.6 147.4 M671.1 147.8 L669.9 145.8 L668.9 145.2 M672.5 145.5 L672.3 143.8 L672.1 145.2 M672.2 144.4 L671.3 142.8 L672.0 141.3 M669.4 142.7 L669.8 140.5 L669.1 141.0 M669.9 141.1 L668.9 139.1 L669.4 140.1 M669.7 139.0 L668.7 137.0 L668.9 136.5 M669.5 138.0 L668.7 135.9 L670.1 137.1 M666.2 135.5 L668.0 133.7 L669.0 132.3 M666.4 133.7 L665.9 131.3 L667.3 131.2 M667.4 131.9 L667.2 128.9 L665.8 128.0 M668.4 130.2 L667.4 127.8 L667.0 128.0 M669.3 128.8 L670.2 126.8 L669.1 125.9 M670.8 126.9 L670.3 124.0 L669.5 122.8 M672.4 126.1 L673.5 124.0 L672.7 124.2 M672.6 124.8 L673.7 123.5 L673.4 122.3 M673.2 122.6 L675.1 120.6 L675.8 119.5 M675.0 121.0 L675.3 118.1 L675.0 117.1 M676.4 119.9 L678.0 119.4 L678.9 118.1 M677.3 119.5 L677.6 117.0 L676.7 116.4 M678.7 117.5 L681.2 117.6 L682.3 117.8 M679.5 114.8 L680.9 112.5 L680.4 113.2 M680.7 113.5 L681.8 111.7 L682.5 113.0 M683.0 113.8 L684.6 113.5 L684.8 114.4 M683.7 112.0 L685.6 111.9 L684.7 111.8 M686.9 113.3 L687.9 112.2 L686.8 113.1 M688.1 113.5 L690.4 112.3 L690.1 111.2 M690.7 114.0 L693.4 114.8 L694.8 113.3 M691.8 115.2 L694.8 115.2 L695.7 113.8 M693.5 113.7 L695.5 114.5 L695.4 113.5 M695.8 115.2 L697.5 117.0 L696.3 116.5 M697.1 114.1 L698.6 114.7 L697.6 114.3 M699.0 115.2 L701.0 115.5 L699.5 115.7 M700.1 116.7 L703.1 117.8 L701.7 116.7 M702.5 116.4 L704.9 116.8 L704.2 117.0 M705.3 115.2 L705.6 116.7 L705.8 117.6 M707.7 116.0 L709.4 118.0 L708.9 117.3 M708.8 117.7 L709.1 120.4 L708.5 121.1 M708.9 120.3 L710.0 122.1 L710.1 121.8 M709.0 121.7 L711.6 123.4 L711.6 123.0 M709.5 123.7 L710.8 124.9 L709.3 126.0 M710.6 125.3 L711.4 127.2 L710.5 125.9 M710.9 127.0 L711.1 129.4 L712.4 128.9 M712.4 128.9 L713.9 129.8 L714.2 131.3 M713.2 129.8 L714.4 132.6 L713.1 132.5 M712.9 132.3 L713.7 133.6 L712.7 132.9 M713.3 133.8 L713.9 135.5 L714.2 136.6 M714.0 135.4 L713.0 138.4 L713.3 137.1 M706.2 137.4 L706.5 139.1 L705.6 139.2 M706.7 139.5 L705.3 140.7 L704.8 141.4 M707.2 141.4 L706.1 143.1 L704.8 142.8 M706.6 142.6 L706.4 144.9 L706.7 144.2 M707.8 146.2 L705.5 147.1 L707.0 145.8 M704.3 146.7 L703.6 148.3 L702.6 147.2 M703.4 149.0 L701.2 149.6 L701.3 149.8 M700.8 148.8 L699.0 149.8 L699.7 149.1 M698.9 149.6 L696.8 149.7 L697.7 151.2 M697.9 151.5 L695.0 152.6 L693.9 151.1 M695.8 151.5 L693.7 151.2 L695.2 150.4 M693.8 154.1 L692.7 155.4 L691.4 155.4 M691.9 154.8 L690.2 153.4 L689.2 152.5 M689.6 152.5 L688.2 153.1 L689.0 152.4 M687.3 152.3 L685.4 151.3 L686.3 151.2 M686.5 150.7 L683.9 151.4 L682.6 151.9 M684.8 149.7 L682.4 150.3 L682.1 151.5 M682.3 148.9 L680.4 148.5 L679.7 148.3 M680.7 149.1 L679.6 146.8 L679.0 148.2 M679.6 147.3 L676.7 146.5 L677.8 145.8 M677.7 145.4 L676.0 144.2 L676.0 145.3 M676.1 144.7 L675.4 142.6 L675.6 143.7 M676.6 142.1 L675.1 139.8 L676.1 138.8 M677.0 139.2 L676.2 137.9 L675.1 139.3 M676.8 138.3 L675.1 136.2 L673.9 135.2 M674.8 135.6 L674.2 132.6 L674.8 133.8 M674.8 133.1 L674.1 130.3 L674.7 129.0 M675.3 131.7 L675.6 130.0 L674.2 131.5 M676.9 130.3 L676.5 128.1 L675.4 127.8 M676.6 128.0 L676.5 125.3 L676.5 124.1 M677.9 126.1 L680.0 125.6 L679.1 127.0 M680.9 125.1 L681.7 123.5 L681.0 122.2 M681.4 124.2 L683.0 122.4 L682.6 120.9 M684.0 123.2 L686.2 122.1 L686.8 123.6 M685.9 122.3 L687.7 121.3 L687.4 122.7 M686.9 120.9 L688.5 120.1 L690.0 118.7 M689.3 121.1 L691.5 119.8 L691.1 119.0 M690.6 118.3 L693.1 119.6 L694.3 118.3 M693.5 119.0 L695.8 119.8 L695.3 121.2 M694.5 120.7 L696.2 122.3 L696.5 123.8 M696.6 121.6 L698.2 123.1 L698.9 122.7 M698.6 122.8 L700.1 124.2 L700.5 124.4 M700.0 123.6 L702.9 124.3 L702.9 124.9 M702.2 124.6 L703.8 125.1 L705.1 125.2 M703.8 125.8 L704.2 127.7 L703.2 128.6 M705.4 127.1 L705.6 130.1 L706.7 128.8 M706.6 128.8 L706.5 130.5 L705.5 129.7 M707.6 130.3 L707.3 132.6 L707.2 131.4 M706.0 133.2 L705.8 135.5 L705.8 136.4 M708.1 135.4 L707.6 137.4 L707.7 136.6 M678.7 150.0 L677.6 151.0 L678.3 153.2 L680.0 153.9 M687.9 119.0 L687.1 120.6 L687.9 119.2 L686.1 117.1 M697.3 155.1 L698.0 152.7 L696.9 153.9 L695.0 154.6 M687.3 118.9 L685.2 120.3 L686.0 118.4 L684.2 120.0 M707.5 128.3 L710.0 127.9 L708.3 129.6 L707.5 131.1 M692.2 117.3 L690.0 116.9 L692.2 115.4 L694.5 115.7 M673.1 140.9 L674.2 139.1 L671.4 139.6 L669.4 140.4 M668.0 134.8 L666.8 132.5 L665.7 133.4 L666.0 131.6 M694.1 115.2 L695.4 116.5 L697.8 117.8 L699.2 118.7 M691.9 116.1 L694.3 116.9 L693.8 114.8 L696.1 115.6 M673.6 146.6 L676.4 146.6 L677.6 145.4 L676.4 147.3 M716.4 137.4 L716.1 139.3 L715.4 141.0 L716.8 139.2 M672.3 135.2 L674.2 135.8 L676.0 133.8 L676.9 132.2 M696.1 151.3 L694.3 151.7 L692.1 152.9 L690.3 153.0 M696.8 120.6 L698.9 119.5 L700.7 120.1 L698.7 119.7 M674.6 129.2 L674.2 131.9 L673.5 134.3 L674.3 132.1 M669.9 142.8 L669.5 143.1 L671.5 143.9 L670.5 142.7 M701.7 124.6 L700.3 123.6 L702.3 122.5 L703.0 120.3 M681.5 117.2 L681.0 119.0 L681.9 117.5 L683.5 116.6 M705.1 146.5 L706.0 143.8 L705.1 145.9 L705.0 148.8 M685.0 121.3 L687.4 122.0 L689.8 120.7 L689.1 121.1 M675.2 127.3 L673.6 126.6 L675.3 125.6 L676.2 124.1 M698.5 114.5 L697.3 115.5 L695.5 117.2 L695.9 119.5 M707.8 147.4 L707.5 145.3 L706.8 143.8 L707.6 142.3 M711.9 125.8 L712.0 126.0 L711.5 128.0 L711.5 125.7 M707.0 129.2 L706.3 128.3 L704.4 127.0 L705.8 127.9 M688.6 158.5 L689.6 157.0 L691.0 156.3 L688.6 154.6 M677.7 157.0 L676.8 155.7 L675.9 157.3 L677.5 157.6 M701.5 157.4 L701.0 158.9 L699.5 158.3 L697.0 157.5 M675.4 125.5 L677.6 125.9 L678.7 126.7 L678.3 126.9 M680.0 151.7 L679.1 150.2 L680.6 152.7 L679.2 155.1 M705.5 122.3 L706.4 123.6 L707.6 122.4 L705.3 122.5 M705.6 149.3 L706.8 151.3 L704.7 151.2 L705.4 153.2 M696.2 152.2 L696.4 155.0 L693.6 154.9 L696.5 155.2 M669.5 138.1 L667.2 137.0 L668.1 139.6 L669.1 141.1 M710.4 140.2 L708.5 140.0 L709.7 139.0 L708.1 138.1 M673.6 124.3 L673.2 122.8 L673.3 125.2 L674.9 125.0 M676.2 122.5 L677.0 120.6 L677.9 118.6 L679.2 117.9 M709.1 129.6 L707.7 130.5 L707.8 133.1 L707.0 131.5 M682.4 150.0 L683.0 151.7 L681.6 154.3 L684.3 154.2 M672.4 138.9 L672.9 136.1 L672.9 133.7 L673.7 136.0 M704.6 117.4 L706.8 118.8 L705.8 120.2 L708.2 119.7 M691.0 119.1 L692.4 116.5 L694.6 115.1 L695.7 113.9 M675.0 126.0 L676.2 123.6 L677.6 122.2 L679.8 121.6 M707.2 131.0 L709.8 130.4 L709.8 133.2 L710.0 135.0 M674.9 141.0 L672.0 141.1 L671.0 138.8 L668.9 140.5 M697.1 116.6 L699.6 115.6 L698.3 116.6 L696.7 114.3 M680.4 154.1 L681.8 151.8 L684.0 151.9 L685.7 152.1 M698.6 119.3 L696.9 118.0 L695.9 119.6 L694.4 121.0 M678.5 124.4 L680.1 125.4 L679.5 123.4 L678.1 121.1 M706.5 150.7 L709.0 151.3 L708.5 151.9 L709.6 150.7 M695.2 159.4 L693.1 157.6 L691.3 159.0 L693.5 158.3 M708.0 135.3 L708.8 133.8 L707.4 133.5 L708.7 136.1 M670.8 142.6 L670.8 144.6 L672.6 146.0 L674.1 144.3 M674.2 153.5 L676.1 151.9 L678.3 153.0 L675.5 154.1 M677.1 153.5 L675.7 152.0 L673.2 151.7 L675.1 150.4 M674.7 155.9 L677.2 156.9 L676.3 154.7 L674.2 155.2 M708.4 122.7 L708.4 121.2 L707.6 122.7 L710.3 121.9 M703.8 152.3 L702.4 151.5 L700.4 153.2 L699.2 151.7 M692.9 118.1 L690.9 117.5 L693.3 117.2 L694.2 114.8 M673.7 153.1 L673.1 150.7 L673.0 152.2 L672.1 149.9 M696.4 119.2 L697.8 120.9 L699.1 119.7 L699.0 117.9 M685.7 150.7 L685.0 152.7 L687.9 152.1 L688.7 153.9 M707.7 130.5 L706.8 132.5 L708.2 133.7 L706.6 134.9 M708.4 132.6 L709.2 135.3 L706.6 136.2 L706.3 133.9 M685.1 151.4 L684.9 149.7 L682.6 148.8 L681.8 147.8 M675.2 155.6 L673.9 154.6 L673.2 152.7 L673.4 151.1 M700.8 118.7 L699.1 121.0 L698.9 122.8 L701.0 123.8 M692.0 115.4 L689.7 116.8 L691.2 118.0 L689.4 115.7 M677.7 121.0 L678.0 119.0 L680.4 118.0 L679.3 119.7 M697.7 119.6 L698.8 122.2 L696.5 121.8 L695.1 119.3 M703.5 149.8 L705.4 150.7 L702.6 150.6 L701.4 148.6 M674.7 148.1 L674.3 150.8 L675.0 148.2 L676.4 150.2 M692.0 116.5 L694.3 114.8 L694.0 113.7 L692.3 113.4 M705.6 151.8 L704.9 149.5 L704.7 151.1 L702.5 149.4 M689.0 153.8 L689.2 155.4 L687.9 152.8 L688.4 151.9 M686.6 121.6 L687.6 119.9 L690.1 119.9 L691.3 119.9 M709.6 143.5 L707.0 142.6 L709.7 143.3 L711.1 144.5 M679.2 123.5 L678.0 125.5 L677.4 127.4 L677.0 129.5 M698.6 118.3 L701.2 118.8 L703.4 119.2 L702.0 119.9 M677.1 121.2 L675.3 120.1 L674.4 121.2 L674.8 124.0 M714.0 135.9 L715.7 135.4 L715.7 135.4 L714.0 135.6 M671.7 142.4 L671.2 140.3 L670.2 141.8 L669.3 142.7 M699.5 158.3 L697.3 158.1 L698.1 160.5 L698.3 160.8 M671.5 128.5 L674.1 128.1 L676.8 127.2 L676.4 124.6 M707.6 143.2 L710.4 143.4 L710.0 141.0 L709.8 143.0 M702.3 154.4 L704.2 154.3 L705.9 154.8 L704.2 157.0 M697.8 118.8 L699.2 119.7 L700.7 121.9 L697.7 122.5 M710.1 125.0 L707.4 125.4 L708.6 126.6 L706.5 125.7 M696.0 153.6 L698.8 153.9 L698.1 151.1 L700.2 150.9 M689.4 117.7 L690.5 115.2 L691.5 116.3 L692.0 118.6 M680.4 147.1 L679.6 146.5 L678.1 146.8 L678.9 146.0 M708.2 144.5 L706.2 142.5 L706.0 143.9 L706.5 145.7 M707.3 125.9 L709.1 127.4 L710.4 128.6 L708.1 129.3 M677.8 120.7 L676.3 121.3 L676.1 119.7 L674.7 120.8 M681.2 117.0 L681.4 119.4 L680.6 117.4 L682.4 119.6 M677.9 126.7 L677.0 129.1 L676.9 131.1 L677.0 128.1 M677.4 120.7 L679.0 121.1 L681.7 120.7 L683.2 121.1 M692.9 159.4 L693.2 160.0 L695.4 158.9 L697.1 158.0 M700.0 148.8 L700.9 148.1 L703.5 147.7 L704.5 150.2 M701.8 153.3 L703.9 155.0 L706.1 153.1 L708.1 152.5 M670.2 128.7 L668.2 128.8 L668.7 128.3 L670.1 129.0 M674.2 131.4 L673.0 132.3 L673.0 130.8 L674.3 128.4 M675.7 140.8 L674.7 139.3 L673.2 140.0 L675.5 139.7 M682.0 149.2 L680.8 147.2 L680.6 147.1 L679.3 148.5 M692.9 119.0 L690.5 117.2 L690.7 115.7 L692.2 116.5 M683.8 116.2 L681.6 115.9 L679.6 117.2 L678.6 115.9 M689.1 114.5 L691.4 113.3 L691.1 113.2 L690.1 113.1 M671.4 145.9 L672.6 148.5 L671.6 148.6 L672.2 150.1 M680.9 151.4 L682.7 152.6 L685.1 152.3 L687.5 151.3 M704.4 115.3 L703.4 115.1 L703.4 117.2 L705.3 117.5 M709.4 121.0 L708.1 123.3 L708.6 120.5 L709.1 118.4 M708.7 149.8 L707.8 152.1 L706.2 153.8 L707.6 153.1 M669.9 132.2 L667.0 131.5 L665.6 133.2 L666.5 130.9 M706.9 146.2 L706.2 149.0 L708.1 149.2 L707.5 146.3 M700.1 153.8 L699.2 151.5 L699.2 149.1 L699.3 150.9 M713.9 140.4 L714.3 142.3 L716.7 141.7 L714.6 140.4 M674.4 124.4 L673.8 125.9 L675.2 126.5 L674.1 127.8 M706.2 149.1 L708.6 148.6 L708.3 151.2 L708.4 152.1 M685.4 153.9 L684.6 151.9 L684.4 150.3 L685.9 150.3 M698.9 123.4 L699.8 121.8 L701.5 119.7 L700.5 118.0 M708.2 137.5 L709.6 136.6 L708.4 134.5 L707.4 133.0 M701.3 148.9 L703.3 148.7 L702.5 147.3 L702.8 148.9 M715.4 138.7 L717.4 140.9 L715.7 142.8 L714.9 144.0 M691.3 155.6 L689.7 155.4 L689.7 158.1 L689.3 159.4 M693.2 118.7 L693.8 120.4 L692.4 119.7 L691.0 118.0 M702.1 125.1 L700.7 122.8 L700.8 124.3 L699.7 124.3 M671.3 141.7 L672.7 142.6 L670.9 142.9 L671.2 145.0 M703.3 147.4 L701.9 149.1 L704.1 148.2 L705.7 149.0 M690.8 116.2 L692.8 114.0 L693.7 113.6 L695.7 113.9 M692.6 153.9 L693.8 152.5 L695.5 153.5 L697.4 152.5 M689.6 120.2 L687.7 120.8 L688.0 121.6 L686.7 122.3 M710.6 134.6 L711.2 136.0 L709.9 134.1 L712.1 134.4 M690.3 116.4 L690.5 118.6 L688.6 117.1 L690.2 119.3 M711.4 129.4 L712.7 127.8 L712.6 127.5 L713.0 129.8 M705.0 126.9 L705.9 128.1 L705.6 127.9 L706.6 130.4 M671.7 125.1 L670.0 126.7 L672.9 126.9 L673.1 129.1 M666.7 134.7 L666.3 135.0 L665.8 133.8 L666.7 132.3 M710.7 136.4 L711.2 139.4 L710.3 141.3 L708.9 143.3 M710.4 139.3 L711.9 141.6 L714.3 141.6 L714.2 143.8" fill="none" stroke="#35d2da" stroke-width="1.2" stroke-linecap="round" stroke-linejoin="round"/>
<path d="M717.0 194.6 L718.0 196.3 L716.9 197.7 M714.9 195.9 L714.6 198.4 L715.8 197.1 M714.2 197.7 L713.5 199.8 L713.2 201.0 M714.9 200.1 L713.2 201.2 L714.6 200.9 M714.5 201.2 L715.0 202.7 L714.4 202.0 M713.3 203.7 L712.5 206.0 L713.6 206.9 M711.9 204.6 L712.1 206.5 L712.6 206.8 M711.9 206.9 L710.1 207.3 L708.8 208.5 M709.8 207.3 L708.2 208.4 L707.4 208.0 M710.0 209.7 L709.9 212.5 L710.2 212.4 M709.3 211.9 L709.3 214.2 L709.8 214.9 M707.5 212.7 L704.6 212.5 L703.8 212.3 M705.9 214.3 L703.5 216.4 L704.7 215.6 M704.2 214.7 L701.5 215.5 L700.4 214.6 M702.8 214.6 L702.1 216.3 L701.9 216.0 M701.3 215.5 L699.0 214.7 L698.5 215.3 M698.8 214.7 L697.3 215.2 L697.8 214.2 M697.6 216.8 L694.7 216.2 L695.1 216.6 M695.4 217.0 L693.1 218.6 L692.5 217.9 M693.4 216.3 L690.8 214.8 L691.1 213.9 M692.5 216.2 L690.6 215.5 L689.4 214.0 M690.5 216.8 L689.1 218.0 L688.4 218.6 M688.1 215.4 L685.3 216.6 L686.7 215.6 M686.7 216.8 L684.4 216.8 L684.4 216.1 M685.3 215.9 L683.7 216.3 L684.1 216.9 M682.3 217.8 L680.8 216.4 L680.8 215.4 M680.4 215.4 L678.7 215.7 L679.3 215.4 M679.8 213.2 L678.4 210.7 L677.2 210.9 M678.4 213.1 L677.2 210.5 L676.4 209.3 M677.2 210.8 L675.4 210.5 L675.7 209.3 M676.8 208.8 L674.8 207.9 L674.9 208.5 M675.3 208.7 L673.4 207.9 L673.9 208.4 M673.5 207.0 L671.7 206.0 L672.2 205.3 M674.2 205.0 L673.9 202.1 L674.5 203.5 M672.6 203.2 L670.8 201.2 L669.5 201.5 M672.6 202.1 L672.0 200.5 L673.3 201.6 M670.9 200.5 L669.1 199.0 L669.2 198.6 M668.8 198.9 L669.2 197.2 L667.9 196.9 M668.4 197.3 L668.6 195.4 L668.1 195.3 M667.0 195.1 L666.4 193.0 L667.7 194.3 M669.5 193.3 L669.4 190.7 L668.8 189.4 M668.6 191.0 L667.5 189.0 L667.9 188.4 M669.3 190.3 L670.6 188.4 L669.3 188.1 M669.6 188.4 L668.7 186.6 L669.5 185.5 M672.5 187.4 L672.0 185.0 L673.0 184.1 M671.6 185.2 L672.2 183.2 L671.1 182.4 M674.1 183.6 L674.5 180.8 L675.7 182.0 M672.8 181.3 L674.2 179.9 L674.1 180.5 M675.4 180.6 L675.9 177.6 L674.7 178.5 M675.7 179.2 L676.5 177.0 L677.9 176.0 M676.6 176.7 L677.4 174.1 L676.9 173.2 M676.4 174.4 L678.9 174.1 L677.4 174.9 M677.7 172.3 L679.7 172.6 L680.8 173.5 M680.2 173.3 L681.7 171.9 L681.3 170.7 M681.5 171.9 L683.7 170.5 L684.8 171.2 M683.6 171.7 L686.7 172.0 L687.4 172.8 M686.6 173.1 L688.7 173.0 L689.7 171.9 M688.0 172.7 L690.0 173.4 L691.0 174.4 M690.1 173.0 L692.4 174.6 L692.9 175.0 M690.8 171.1 L693.0 171.1 L692.5 172.0 M693.4 170.9 L695.2 170.0 L694.5 168.8 M694.5 172.9 L696.1 173.9 L694.8 172.6 M696.7 172.2 L698.9 172.5 L699.8 173.8 M698.4 171.0 L699.8 172.8 L701.0 173.5 M700.6 170.2 L702.1 170.9 L702.4 171.9 M702.8 170.8 L705.6 171.7 L706.1 170.8 M703.9 172.5 L704.9 175.0 L703.7 176.2 M705.2 173.4 L707.6 174.5 L707.4 173.3 M707.0 175.0 L707.9 176.9 L707.1 177.7 M707.3 178.0 L708.0 181.1 L707.8 180.7 M709.5 178.1 L711.4 178.8 L710.9 179.5 M709.5 179.7 L711.2 181.8 L710.1 183.1 M711.0 181.8 L711.2 183.6 L712.5 183.8 M712.6 182.7 L714.6 184.9 L713.7 183.5 M713.5 183.9 L712.9 187.0 L713.0 188.3 M712.9 186.2 L713.4 189.0 L713.1 189.3 M714.1 187.3 L715.1 189.4 L715.0 188.2 M715.2 188.5 L714.9 191.3 L714.1 190.6 M716.5 190.8 L716.4 193.8 L715.5 194.1 M717.9 192.9 L717.2 195.5 L716.5 196.5 M709.9 195.2 L708.3 196.8 L707.1 195.5 M708.7 197.1 L709.6 199.2 L710.0 200.7 M708.9 198.6 L709.1 200.5 L708.1 200.2 M708.4 201.2 L708.6 203.0 L707.4 202.1 M706.6 202.2 L706.6 204.5 L706.4 206.0 M704.1 203.1 L703.1 204.6 L703.3 203.5 M704.6 205.6 L701.8 207.1 L701.5 206.7 M702.4 206.7 L700.3 207.5 L699.3 208.6 M701.1 209.0 L698.4 208.9 L697.9 209.3 M698.7 209.8 L696.9 210.8 L697.0 211.3 M696.7 209.9 L695.3 211.5 L696.3 212.3 M694.9 210.7 L692.1 211.9 L692.2 211.6 M693.4 211.6 L691.0 210.0 L689.6 209.5 M690.9 209.9 L687.9 210.3 L687.5 210.4 M688.6 208.8 L686.6 208.4 L686.2 208.7 M686.6 209.2 L684.4 208.8 L684.0 210.1 M684.9 208.6 L682.1 208.0 L681.0 208.6 M683.4 208.3 L680.5 208.7 L679.5 207.9 M681.3 207.4 L680.0 205.0 L681.2 206.4 M679.9 204.9 L676.9 204.2 L676.7 203.3 M679.3 202.5 L678.1 201.3 L679.2 202.1 M679.1 200.6 L677.6 200.0 L676.5 198.6 M677.9 198.9 L676.4 197.9 L675.5 198.2 M678.3 196.9 L677.0 194.0 L676.8 193.7 M676.2 195.7 L678.1 193.2 L678.7 192.2 M675.6 193.8 L674.9 191.1 L673.6 191.2 M674.7 190.8 L674.9 188.0 L675.2 187.8 M675.8 188.5 L675.9 186.3 L677.3 187.4 M677.5 186.8 L677.2 185.0 L676.9 185.6 M678.7 186.4 L680.7 185.1 L679.2 185.9 M680.3 184.5 L682.2 182.6 L681.9 183.9 M682.6 183.3 L684.3 182.2 L684.0 181.5 M683.7 181.8 L686.6 181.3 L688.1 181.9 M684.6 180.9 L686.1 178.8 L685.1 179.9 M685.8 178.3 L687.4 178.7 L688.7 179.5 M687.6 178.2 L690.6 177.6 L690.8 177.4 M690.4 176.0 L692.0 176.5 L691.3 175.4 M692.5 177.5 L694.4 178.2 L695.0 178.6 M693.6 177.9 L695.3 178.7 L695.8 178.0 M695.7 179.7 L697.6 182.2 L697.4 182.4 M698.0 180.0 L700.8 180.9 L700.6 182.2 M700.2 179.0 L701.3 180.4 L701.9 179.0 M702.3 180.8 L703.2 182.3 L703.6 181.9 M703.0 181.7 L705.4 181.6 L704.1 182.7 M706.9 182.2 L708.5 183.9 L709.1 184.6 M705.5 185.1 L707.0 185.9 L708.0 184.7 M706.8 186.4 L708.0 187.7 L709.3 187.6 M708.1 188.9 L707.4 190.7 L708.6 191.0 M707.3 191.3 L707.2 193.7 L708.3 193.6 M707.1 192.3 L706.1 194.7 L706.9 193.9 M670.1 199.3 L672.9 198.6 L674.3 200.7 L672.3 200.0 M700.6 208.3 L698.4 208.7 L698.2 210.8 L695.8 210.5 M678.5 185.2 L680.0 183.8 L682.8 182.9 L682.7 183.0 M710.8 190.1 L708.9 189.6 L710.7 189.9 L712.0 191.2 M678.5 179.2 L680.9 178.4 L679.0 180.6 L677.5 178.9 M706.2 177.9 L704.7 179.8 L704.1 182.2 L705.4 184.3 M707.4 200.4 L707.2 200.5 L706.7 200.9 L708.7 199.0 M683.0 172.4 L685.6 172.3 L685.5 171.6 L687.5 172.3 M710.2 190.5 L708.8 189.9 L707.0 191.2 L706.5 189.1 M709.7 195.4 L710.9 197.9 L713.2 199.6 L712.9 202.4 M674.3 192.2 L676.3 191.8 L675.8 190.3 L677.2 187.7 M709.0 207.8 L708.8 209.5 L707.2 211.4 L710.0 210.5 M714.2 193.1 L713.2 191.7 L712.8 189.4 L711.0 191.6 M692.0 210.4 L692.9 211.8 L690.6 210.4 L691.8 212.3 M674.8 185.1 L672.9 186.3 L674.4 186.4 L672.8 187.3 M693.2 176.9 L694.1 175.2 L695.9 176.4 L694.4 177.7 M694.1 177.2 L692.8 174.8 L690.6 175.4 L692.8 174.3 M699.3 208.6 L701.0 209.6 L703.1 210.9 L701.4 211.8 M668.7 192.2 L668.8 193.9 L668.1 195.8 L670.2 194.4 M677.6 201.1 L679.1 201.7 L678.9 200.5 L679.4 203.0 M711.0 201.1 L710.1 202.5 L710.0 199.9 L708.2 199.8 M683.1 177.0 L682.2 175.6 L683.5 174.7 L683.8 176.8 M697.8 209.9 L697.4 209.4 L696.5 211.1 L695.8 210.5 M675.6 206.1 L674.0 206.9 L676.1 207.9 L679.0 207.7 M708.1 205.3 L706.3 205.4 L705.2 203.5 L705.9 201.7 M712.5 185.2 L710.8 185.5 L709.1 185.6 L708.1 183.3 M672.4 183.2 L674.8 184.0 L675.4 182.4 L674.7 183.8 M674.3 183.6 L672.9 185.6 L671.2 187.6 L670.7 190.5 M678.7 199.7 L679.2 202.1 L679.0 201.2 L679.7 204.3 M688.9 176.8 L687.0 178.5 L688.4 177.8 L686.5 179.5 M710.8 193.6 L713.1 192.1 L714.7 190.3 L717.1 189.9 M711.4 187.6 L712.2 189.7 L710.2 189.9 L708.6 191.5 M678.0 185.0 L677.6 187.3 L675.5 187.2 L674.6 185.7 M674.7 190.4 L675.0 187.9 L675.5 185.6 L675.5 188.5 M673.8 192.7 L673.2 194.8 L672.5 192.1 L669.9 192.4 M697.1 213.2 L695.8 214.7 L694.2 216.7 L694.0 214.9 M694.7 215.3 L693.3 213.3 L691.6 211.4 L691.4 212.9 M682.1 206.4 L683.8 206.7 L680.8 205.7 L679.9 205.3 M684.1 207.9 L683.9 206.7 L681.8 206.9 L681.6 209.1 M687.2 172.1 L689.0 171.3 L687.1 172.1 L685.9 174.8 M699.4 209.4 L698.8 212.3 L700.0 210.7 L701.7 208.4 M677.5 201.4 L677.8 199.3 L679.1 201.7 L677.2 202.5 M678.3 184.3 L680.4 184.6 L679.3 185.6 L677.4 187.5 M681.5 213.1 L680.3 211.8 L682.8 212.1 L681.3 210.9 M699.4 215.4 L701.0 214.4 L698.9 213.1 L698.3 214.5 M682.5 213.6 L680.7 212.2 L682.0 213.5 L681.2 215.4 M677.6 211.3 L679.8 213.3 L680.0 216.0 L680.8 217.1 M680.3 205.8 L679.7 204.4 L679.4 207.0 L676.4 207.4 M710.5 200.4 L710.8 202.8 L711.3 200.1 L709.3 199.5 M697.3 179.0 L697.7 180.2 L695.3 179.4 L697.3 180.1 M696.4 210.4 L697.8 211.3 L696.3 212.9 L694.4 212.8 M686.6 174.9 L688.3 174.7 L686.1 174.6 L684.1 176.6 M698.1 215.7 L696.8 216.6 L695.0 215.1 L694.7 216.7 M710.1 188.9 L711.9 190.6 L710.0 190.2 L708.7 192.6 M682.3 210.3 L684.3 209.8 L682.9 210.8 L681.6 208.7 M675.0 200.1 L675.3 202.8 L672.7 203.5 L672.0 204.8 M709.9 197.2 L712.3 196.6 L711.3 194.6 L709.5 194.9 M702.5 213.0 L701.8 211.2 L700.8 209.8 L699.4 208.7 M674.3 192.9 L672.7 192.4 L670.3 192.6 L671.6 194.1 M683.7 175.7 L681.7 173.9 L680.0 173.1 L677.5 174.1 M673.1 185.4 L671.7 187.0 L674.3 186.5 L673.4 185.1 M680.9 184.2 L683.2 182.5 L683.0 180.6 L684.0 179.2 M702.2 175.9 L705.0 176.2 L702.4 177.2 L701.6 175.0 M703.9 180.7 L705.5 179.5 L707.5 179.8 L709.0 180.4 M681.2 182.8 L681.7 183.9 L679.7 185.8 L681.7 184.0 M712.3 192.7 L712.8 190.9 L715.2 189.7 L715.0 187.8 M711.5 206.3 L709.2 205.5 L710.3 204.2 L709.6 202.1 M696.8 175.4 L697.7 178.2 L697.5 180.1 L698.4 178.5 M686.1 176.1 L686.4 177.9 L688.3 177.3 L686.1 177.2 M714.0 197.6 L713.9 194.8 L712.8 196.2 L711.3 198.4 M681.9 177.8 L680.2 177.5 L682.1 176.4 L679.4 176.3 M699.4 214.4 L697.8 216.5 L699.0 216.4 L697.6 214.8 M677.8 208.3 L678.3 210.4 L681.0 210.5 L680.9 213.2 M673.0 187.4 L671.8 186.2 L672.2 184.3 L673.9 182.2 M682.6 173.5 L680.2 174.5 L681.9 173.9 L683.7 175.2 M675.8 193.0 L676.3 195.8 L675.0 196.9 L676.0 199.0 M699.7 212.2 L697.6 211.7 L694.9 211.7 L697.8 212.0 M697.7 209.6 L698.4 208.5 L697.1 209.7 L697.9 209.0 M689.9 176.3 L687.7 175.2 L686.2 176.8 L688.4 177.8 M686.4 178.1 L683.9 177.3 L686.1 178.9 L687.2 177.8 M692.7 210.1 L692.6 211.7 L690.8 211.9 L690.1 214.0 M677.4 209.8 L677.1 208.2 L677.3 209.7 L676.5 211.1 M685.3 173.2 L687.2 173.2 L689.7 173.8 L687.3 175.3 M678.1 205.5 L680.7 206.8 L678.6 206.7 L676.1 207.7 M702.2 176.5 L703.1 178.4 L704.8 177.1 L703.5 175.1 M672.7 198.9 L672.7 201.2 L673.8 200.0 L671.9 202.1 M707.3 192.0 L706.7 189.9 L707.9 188.1 L709.2 189.5 M687.5 173.1 L688.2 175.5 L686.8 173.4 L689.0 173.7 M682.8 213.1 L681.9 214.6 L680.9 212.9 L681.4 211.0 M671.4 187.8 L673.4 189.5 L676.0 190.7 L676.7 190.7 M680.6 206.9 L678.8 208.3 L677.4 209.1 L675.4 208.9 M710.8 190.2 L709.1 190.9 L711.0 190.5 L709.4 188.3 M675.8 207.3 L675.5 208.9 L677.6 209.5 L678.8 208.2 M672.4 201.9 L672.1 203.6 L670.8 203.0 L673.4 201.9 M694.0 213.8 L692.6 214.6 L689.9 215.5 L689.2 217.4 M688.3 177.4 L689.8 176.6 L688.6 177.6 L690.6 177.9 M706.1 207.9 L707.8 208.0 L708.1 209.6 L709.6 210.6 M675.9 192.1 L676.6 190.2 L676.6 192.0 L676.7 190.6 M691.7 177.6 L693.7 176.9 L691.4 175.3 L692.7 176.2 M685.4 174.8 L685.0 172.9 L683.3 172.9 L681.5 173.7 M677.3 184.9 L676.9 187.4 L677.3 188.0 L675.4 188.0 M707.1 206.9 L704.5 206.8 L703.0 208.3 L704.5 207.1 M717.2 191.0 L718.6 191.0 L717.8 193.8 L716.5 192.6 M714.3 193.7 L715.1 191.5 L717.6 192.8 L717.5 194.5 M680.1 182.9 L677.6 183.5 L679.7 184.9 L680.1 185.4 M679.1 175.7 L680.8 176.2 L682.8 175.6 L681.0 176.6 M685.3 173.6 L684.1 171.9 L682.5 171.9 L683.6 174.6 M714.6 189.0 L716.8 188.9 L716.2 187.8 L714.8 185.7 M713.0 185.7 L713.9 184.6 L713.0 183.2 L712.2 185.1 M699.6 171.8 L700.8 170.2 L701.6 171.7 L700.0 170.9 M684.1 207.8 L685.6 210.0 L686.0 212.7 L684.7 215.1 M686.8 210.6 L685.6 211.5 L683.7 212.3 L686.5 212.5 M680.7 205.7 L681.8 206.1 L681.8 207.6 L683.9 209.1 M675.7 184.5 L675.8 186.4 L677.8 186.0 L680.0 185.5 M708.8 210.2 L710.5 209.8 L711.4 207.4 L708.8 206.6 M704.4 211.3 L704.2 213.4 L705.1 215.8 L702.7 214.6 M678.2 179.1 L680.6 177.8 L678.8 177.0 L680.6 176.1 M706.8 204.7 L706.0 201.9 L706.7 201.0 L709.1 200.0 M674.6 200.4 L674.7 198.4 L676.6 200.0 L677.3 198.2 M683.1 172.7 L684.3 174.0 L682.3 174.0 L685.1 173.1 M671.8 201.4 L670.6 200.1 L672.3 199.8 L674.3 200.8 M712.1 196.2 L709.6 197.7 L708.2 199.5 L708.7 197.2 M693.9 212.0 L691.8 212.1 L690.4 210.3 L689.3 212.5 M709.6 193.6 L708.9 194.9 L710.2 195.8 L708.3 197.2 M685.0 171.9 L686.6 171.5 L685.6 171.6 L684.2 172.9 M681.3 183.4 L679.3 182.9 L677.2 183.0 L679.3 184.5 M699.0 174.1 L700.8 175.7 L702.8 173.6 L702.9 172.0 M707.7 179.4 L707.2 182.3 L708.5 179.8 L708.6 182.1 M679.0 206.9 L679.1 204.5 L678.0 206.5 L680.1 205.5 M709.4 183.8 L711.0 183.7 L708.7 184.3 L708.3 181.4 M678.7 180.5 L677.1 178.7 L676.3 175.9 L678.3 176.1 M704.7 182.0 L705.1 180.5 L703.4 178.4 L703.6 180.4 M695.6 214.8 L693.2 214.4 L692.1 216.5 L694.7 215.7 M708.8 188.9 L706.7 188.7 L706.8 190.5 L707.9 192.6 M696.0 171.2 L697.9 171.4 L695.0 171.5 L696.4 173.9 M676.6 206.0 L678.1 205.3 L677.2 206.8 L678.5 208.3 M686.3 174.5 L688.2 176.4 L686.5 176.3 L687.7 173.9 M697.2 216.2 L697.9 214.5 L700.7 214.5 L701.5 213.1 M694.7 172.6 L692.9 170.9 L694.9 170.7 L696.0 170.6 M683.8 214.7 L682.6 212.2 L680.9 211.4 L680.9 213.7" fill="none" stroke="#35d2da" stroke-width="1.2" stroke-linecap="round" stroke-linejoin="round"/>
<path d="M572.30 122.00 L572.70 122.82 L573.00 123.69 L573.16 124.58 L573.14 125.48 L572.93 126.34 L572.54 127.14 L571.98 127.84 L571.28 128.42 L570.49 128.90 L569.66 129.26 L569.44 130.15 L569.11 131.01 L568.65 131.80 L568.06 132.47 L567.35 133.00 L566.54 133.35 L565.66 133.53 L564.75 133.53 L563.84 133.38 L562.96 133.13 L562.23 133.67 L561.42 134.12 L560.57 134.43 L559.68 134.56 L558.79 134.51 L557.94 134.26 L557.16 133.82 L556.46 133.24 L555.86 132.55 L555.35 131.79 L554.44 131.73 L553.54 131.55 L552.68 131.24 L551.91 130.77 L551.27 130.16 L550.78 129.42 L550.46 128.59 L550.30 127.69 L550.28 126.77 L550.38 125.86 L549.72 125.23 L549.14 124.52 L548.69 123.73 L548.40 122.88 L548.30 122.00 L548.40 121.12 L548.69 120.27 L549.14 119.48 L549.72 118.77 L550.38 118.14 L550.28 117.23 L550.30 116.31 L550.46 115.41 L550.78 114.58 L551.27 113.84 L551.91 113.23 L552.68 112.76 L553.54 112.45 L554.44 112.27 L555.35 112.21 L555.86 111.45 L556.46 110.76 L557.16 110.18 L557.94 109.74 L558.79 109.49 L559.68 109.44 L560.57 109.57 L561.42 109.88 L562.23 110.33 L562.96 110.87 L563.84 110.62 L564.75 110.47 L565.66 110.47 L566.54 110.65 L567.35 111.00 L568.06 111.53 L568.65 112.20 L569.11 112.99 L569.44 113.85 L569.66 114.74 L570.49 115.10 L571.28 115.58 L571.98 116.16 L572.54 116.86 L572.93 117.66 L573.14 118.52 L573.16 119.42 L573.00 120.31 L572.70 121.18 L572.30 122.00Z" fill="none" stroke="#efefef" stroke-width="1.7"/>
<circle cx="559" cy="123.5" r="1" fill="#e0e0e0"/><circle cx="562.8" cy="120.5" r="1.3" fill="none" stroke="#e0e0e0" stroke-width="0.9"/>
<path d="M655.80 199.00 L656.20 199.85 L656.50 200.76 L656.65 201.69 L656.62 202.62 L656.40 203.51 L656.00 204.34 L655.42 205.07 L654.70 205.69 L653.90 206.19 L653.04 206.58 L652.80 207.50 L652.45 208.38 L651.96 209.19 L651.34 209.89 L650.60 210.43 L649.76 210.80 L648.84 210.99 L647.90 211.01 L646.96 210.87 L646.05 210.62 L645.28 211.17 L644.44 211.62 L643.55 211.92 L642.63 212.06 L641.71 212.00 L640.82 211.74 L640.00 211.30 L639.27 210.70 L638.64 209.99 L638.10 209.22 L637.16 209.14 L636.23 208.95 L635.35 208.61 L634.55 208.12 L633.89 207.48 L633.38 206.72 L633.03 205.85 L632.85 204.93 L632.82 203.98 L632.91 203.04 L632.24 202.37 L631.65 201.62 L631.19 200.80 L630.90 199.92 L630.80 199.00 L630.90 198.08 L631.19 197.20 L631.65 196.38 L632.24 195.63 L632.91 194.96 L632.82 194.02 L632.85 193.07 L633.03 192.15 L633.38 191.28 L633.89 190.52 L634.55 189.88 L635.35 189.39 L636.23 189.05 L637.16 188.86 L638.10 188.78 L638.64 188.01 L639.27 187.30 L640.00 186.70 L640.82 186.26 L641.71 186.00 L642.63 185.94 L643.55 186.08 L644.44 186.38 L645.28 186.83 L646.05 187.38 L646.96 187.13 L647.90 186.99 L648.84 187.01 L649.76 187.20 L650.60 187.57 L651.34 188.11 L651.96 188.81 L652.45 189.62 L652.80 190.50 L653.04 191.42 L653.90 191.81 L654.70 192.31 L655.42 192.93 L656.00 193.66 L656.40 194.49 L656.62 195.38 L656.65 196.31 L656.50 197.24 L656.20 198.15 L655.80 199.00Z" fill="none" stroke="#efefef" stroke-width="1.7"/>
<circle cx="642" cy="200.5" r="1" fill="#e0e0e0"/><circle cx="645.8" cy="197.5" r="1.3" fill="none" stroke="#e0e0e0" stroke-width="0.9"/>
<path d="M576.91 173.83 L584.77 178.50 L593.72 176.62 L591.72 185.54 L596.27 193.47 L587.17 194.32 L581.03 201.11 L577.41 192.71 L569.06 188.97 L575.93 182.93Z" fill="#dedede" stroke="#f2f2f2" stroke-width="1.8" stroke-linejoin="round"/>
<path d="M587.5 191.5 l1.0 -0.8 M581.8 182.2 l1.4 1.3 M583.6 184.6 l1.1 0.8 M583.9 183.4 l0.5 -1.1 M585.4 188.4 l0.9 -0.8 M588.3 189.2 l1.5 1.0 M584.9 187.7 l-1.1 -1.8 M580.7 188.6 l1.4 0.3 M583.7 192.5 l-0.4 -1.9 M578.4 185.8 l1.0 1.0 M582.9 188.8 l-0.1 -1.3 M582.5 188.6 l1.2 -1.3 M580.7 187.1 l1.9 -1.0 M579.5 188.1 l0.8 -1.0 M583.4 187.5 l-1.9 -0.0 M585.1 189.4 l1.6 -0.1" fill="none" stroke="#3a3e46" stroke-width="0.9" stroke-linecap="round"/>
<path d="M703.05 246.64 L708.81 253.33 L717.58 254.36 L713.00 261.91 L714.73 270.57 L706.13 268.54 L698.43 272.86 L697.70 264.06 L691.21 258.07 L699.36 254.66Z" fill="#dedede" stroke="#f2f2f2" stroke-width="1.8" stroke-linejoin="round"/>
<path d="M700.7 264.5 l1.1 -0.9 M708.2 263.6 l-0.1 -2.1 M703.8 258.7 l-1.3 -0.1 M701.9 261.6 l1.8 -1.1 M708.0 259.0 l1.1 -0.3 M708.9 258.4 l1.0 -1.1 M705.2 260.5 l1.1 -1.6 M700.9 264.6 l0.4 1.9 M702.2 261.1 l0.6 1.9 M704.9 259.9 l1.3 -0.2 M702.9 262.5 l-1.8 -1.0 M709.2 259.0 l-0.7 0.8 M708.3 262.0 l-1.3 -0.8 M707.9 260.2 l-0.9 1.2 M708.1 266.3 l-1.4 -0.9 M703.4 261.3 l-0.6 1.5" fill="none" stroke="#3a3e46" stroke-width="0.9" stroke-linecap="round"/>
<path d="M670.5 165.0 L681.50 165.00 Q679.60 170.13 675.27 168.72 Z M670.5 165.0 L678.28 172.78 Q673.31 175.07 671.24 171.00 Z M670.5 165.0 L670.50 176.00 Q665.37 174.10 666.78 169.77 Z M670.5 165.0 L662.72 172.78 Q660.43 167.81 664.50 165.74 Z M670.5 165.0 L659.50 165.00 Q661.40 159.87 665.73 161.28 Z M670.5 165.0 L662.72 157.22 Q667.69 154.93 669.76 159.00 Z M670.5 165.0 L670.50 154.00 Q675.63 155.90 674.22 160.23 Z M670.5 165.0 L678.28 157.22 Q680.57 162.19 676.50 164.26 Z " fill="#efefef" stroke="#efefef" stroke-width="0.6" stroke-linejoin="round"/>
<path d="M672.4 165.6 L676.8 167.0 M671.4 166.8 L673.5 170.9 M669.9 166.9 L668.5 171.3 M668.7 165.9 L664.6 168.0 M668.6 164.4 L664.2 163.0 M669.6 163.2 L667.5 159.1 M671.1 163.1 L672.5 158.7 M672.3 164.1 L676.4 162.0" stroke="#9a9a9a" stroke-width="0.6" fill="none"/>
<path d="M709.5 286.5 L719.37 290.09 Q715.99 294.07 712.56 291.40 Z M709.5 286.5 L713.94 296.02 Q708.73 296.45 708.20 292.13 Z M709.5 286.5 L705.91 296.37 Q701.93 292.99 704.60 289.56 Z M709.5 286.5 L699.98 290.94 Q699.55 285.73 703.87 285.20 Z M709.5 286.5 L699.63 282.91 Q703.01 278.93 706.44 281.60 Z M709.5 286.5 L705.06 276.98 Q710.27 276.55 710.80 280.87 Z M709.5 286.5 L713.09 276.63 Q717.07 280.01 714.40 283.44 Z M709.5 286.5 L719.02 282.06 Q719.45 287.27 715.13 287.80 Z " fill="#efefef" stroke="#efefef" stroke-width="0.6" stroke-linejoin="round"/>
<path d="M711.1 287.7 L714.5 290.4 M709.7 288.5 L710.3 292.8 M708.3 288.1 L705.6 291.5 M707.5 286.7 L703.2 287.3 M707.9 285.3 L704.5 282.6 M709.3 284.5 L708.7 280.2 M710.7 284.9 L713.4 281.5 M711.5 286.3 L715.8 285.7" stroke="#9a9a9a" stroke-width="0.6" fill="none"/>
<g opacity="0.99" fill="#e2e2e2" font-size="14" font-family="Liberation Sans, sans-serif" lengthAdjust="spacing">
<text x="398" y="116" textLength="66" lengthAdjust="spacing">Bathroom</text>
<text x="462" y="149" textLength="59" lengthAdjust="spacing">Bedroom</text>
<text x="436" y="249" textLength="59" lengthAdjust="spacing">Bedroom</text>
<text x="31" y="370.7" textLength="58.6" lengthAdjust="spacing">Bedroom</text>
<text x="129" y="367" textLength="41.5" lengthAdjust="spacing">Closet</text>
<text x="183" y="367" textLength="65" lengthAdjust="spacing">Bathroom</text>
<text x="131" y="442" textLength="41" lengthAdjust="spacing">Closet</text>
<text x="189" y="446" textLength="66" lengthAdjust="spacing">Bathroom</text>
<text x="395" y="338" textLength="72" lengthAdjust="spacing">Bathroom</text>
<text x="476" y="459" textLength="66" lengthAdjust="spacing">Bathroom</text>
<text x="597" y="403" textLength="58" lengthAdjust="spacing">Bedroom</text>
<text x="548" y="443" textLength="59" lengthAdjust="spacing">Bedroom</text>
<text x="638" y="497" textLength="64" lengthAdjust="spacing">Bathroom</text>
</g>

<g opacity="0.52">
<path d="M366.5 282 L399 252.5 L431 282.5 M366.5 282 V287 L399 317 L432 286.5" fill="none" stroke="#ffffff" stroke-width="4" stroke-linejoin="miter"/>
<path d="M391.3 277 V297.3 H404.5 M400.7 293.5 V274.2 H411 M400.7 284.3 H409" fill="none" stroke="#ffffff" stroke-width="3.4"/>
<text x="352.5" y="344" style="font-family:'Liberation Serif',serif" font-size="17.5" fill="#ffffff" letter-spacing="0.2">LUCAS FOX</text>
<text x="377" y="352" font-family="Liberation Sans, sans-serif" font-size="5" fill="#ffffff" letter-spacing="1.6" opacity="0.8">ADVISORS</text>
</g>

</svg>
</body></html>
